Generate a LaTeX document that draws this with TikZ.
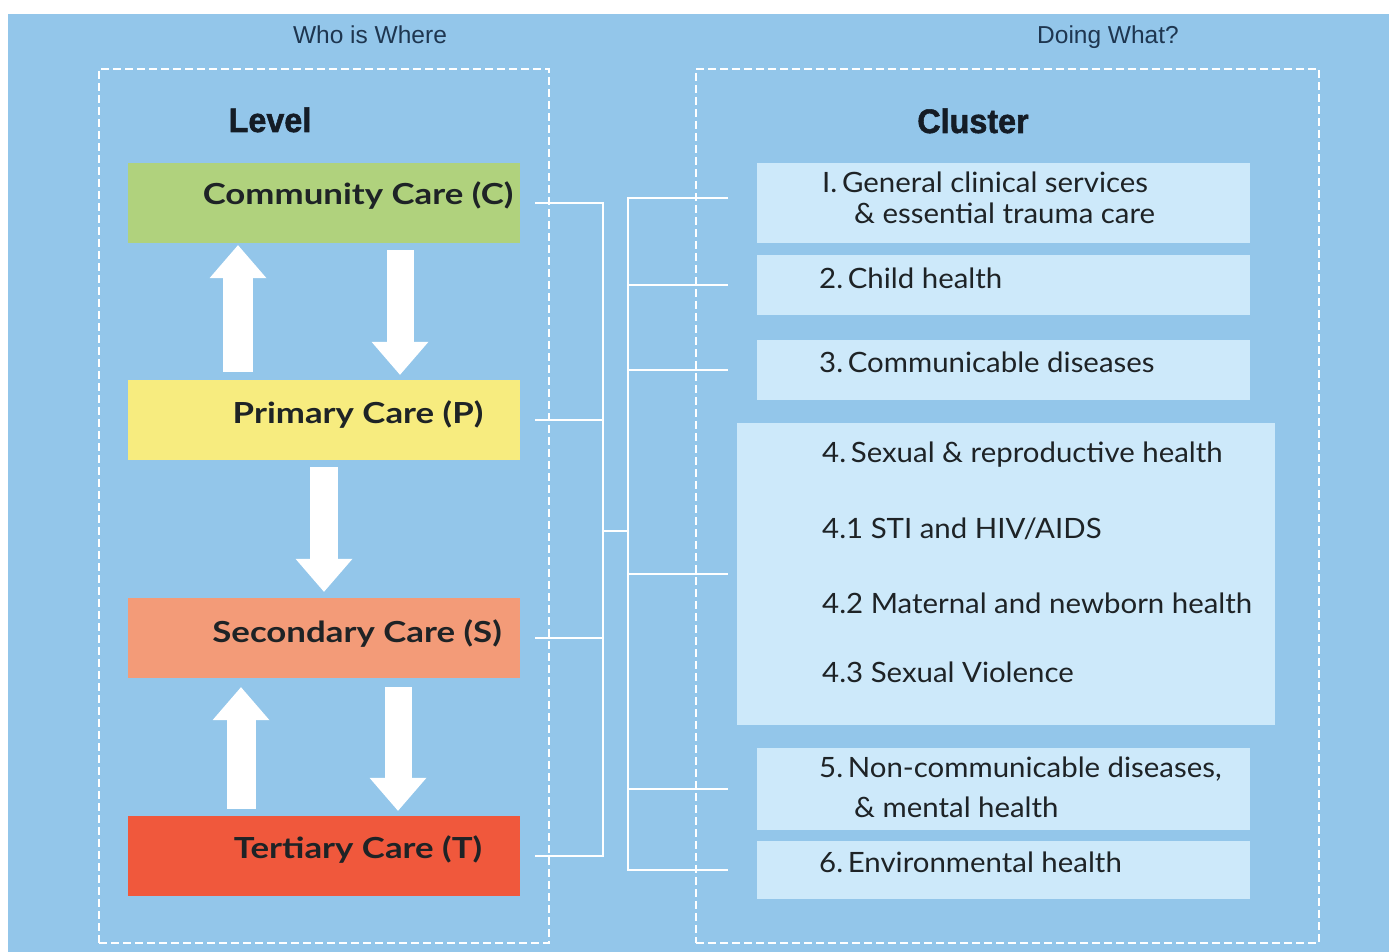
\documentclass[tikz,border=0pt]{standalone}
\usepackage{fontspec}
\setmainfont{Lato}
\newfontfamily\headfont{Liberation Sans}
\newfontfamily\headbold[FakeStretch=0.95,FakeBold=1.5]{Liberation Sans}
\newfontfamily\lvlfont[FakeStretch=1.2]{Lato}
\newfontfamily\clfont[FakeStretch=1.05]{Lato}
\usetikzlibrary{arrows.meta}
\definecolor{bg}{HTML}{93C6EA}
\definecolor{clbox}{HTML}{CDE9FA}
\definecolor{cgreen}{HTML}{B0D27D}
\definecolor{cyellow}{HTML}{F7EC7F}
\definecolor{csalmon}{HTML}{F39B78}
\definecolor{cred}{HTML}{F0583C}
\definecolor{txt}{HTML}{1E2326}
\definecolor{navy}{HTML}{1E3650}
\definecolor{headc}{HTML}{141C26}
\begin{document}
\begin{tikzpicture}[x=1pt,y=-1pt,
  dbox/.style={draw=white, line width=1.5pt, dash pattern=on 8pt off 4pt, inner sep=0pt},
  lvl/.style={minimum width=392pt, minimum height=80pt, inner sep=0pt},
  lvltext/.style={font=\lvlfont\bfseries\fontsize{29}{32}\selectfont, text=txt, inner sep=0pt, anchor=base},
  clus/.style={fill=clbox, inner sep=0pt},
  cltext/.style={font=\clfont\fontsize{28}{32}\selectfont, text=txt, inner sep=0pt, anchor=base west},
  toptitle/.style={font=\headfont\fontsize{24.5}{30}\selectfont, text=navy, inner sep=0pt, anchor=base},
  coltitle/.style={font=\headbold\bfseries\fontsize{34}{38}\selectfont, text=headc, inner sep=0pt, anchor=base},
  conn/.style={draw=white, line width=1.6pt},
  blk/.style={draw=white, line width=#1, line cap=butt,
    -{Triangle[width=57pt,length=33pt,line width=0pt]}},
]
\useasboundingbox (0,0) rectangle (1389,952);
\fill[white] (0,0) rectangle (1389,952);
\fill[bg] (8,14) rectangle (1389,952);

% titles
\node[toptitle] (who) at (370,44) {Who is Where};
\node[toptitle] (doing) at (1108,44) {Doing What?};

% dashed group boxes
\node[dbox, minimum width=450pt, minimum height=874pt] (LB) at (324,506) {};
\node[dbox, minimum width=623pt, minimum height=874pt] (RB) at (1007.5,506) {};

\node[coltitle] (level) at (270,132) {Level};
\node[coltitle] (cluster) at (973,133) {Cluster};

% level boxes
\node[lvl, fill=cgreen] (C) at (324,203) {};
\node[lvl, fill=cyellow] (P) at (324,420) {};
\node[lvl, fill=csalmon] (S) at (324,638) {};
\node[lvl, fill=cred] (T) at (324,856) {};
\node[lvltext] (Ct) at (358,205) {Community Care (C)};
\node[lvltext] (Pt) at (358,423) {Primary Care (P)};
\node[lvltext] (St) at (357,642) {Secondary Care (S)};
\node[lvltext] (Tt) at (358,858) {Tertiary Care (T)};

% block arrows
\draw[blk=30pt, shorten <=8pt, shorten >=2pt] ([xshift=-86pt]P.north) -- ([xshift=-86pt]C.south);
\draw[blk=27pt, shorten <=7pt, shorten >=5pt] ([xshift=76pt]C.south) -- ([xshift=76pt]P.north);
\draw[blk=28pt, shorten <=7pt, shorten >=6pt] (P.south) -- (S.north);
\draw[blk=29pt, shorten <=7pt, shorten >=9pt] ([xshift=-83pt]T.north) -- ([xshift=-83pt]S.south);
\draw[blk=27pt, shorten <=9pt, shorten >=5pt] ([xshift=74pt]S.south) -- ([xshift=74pt]T.north);

% cluster boxes
\node[clus, minimum width=493pt, minimum height=80pt] (K1) at (1003.5,203) {};
\node[clus, minimum width=493pt, minimum height=60pt] (K2) at (1003.5,285) {};
\node[clus, minimum width=493pt, minimum height=60pt] (K3) at (1003.5,370) {};
\node[clus, minimum width=538pt, minimum height=302pt] (K4) at (1006,574) {};
\node[clus, minimum width=493pt, minimum height=82pt] (K5) at (1003.5,789) {};
\node[clus, minimum width=493pt, minimum height=58pt] (K6) at (1003.5,870) {};

\node[cltext] (k1a) at (822,193) {I.\,General clinical services};
\node[cltext] (k1b) at (854,224) {\& essential trauma care};
\node[cltext] (k2) at (819,288) {2.\,Child health};
\node[cltext] (k3) at (819,372) {3.\,Communicable diseases};
\node[cltext] (k4a) at (822,462) {4.\,Sexual \& reproductive health};
\node[cltext] (k4b) at (822,538) {4.1 STI and HIV/AIDS};
\node[cltext] (k4c) at (822,613) {4.2 Maternal and newborn health};
\node[cltext] (k4d) at (822,682) {4.3 Sexual Violence};
\node[cltext] (k5a) at (819,777) {5.\,Non-communicable diseases,};
\node[cltext] (k5b) at (854,817) {\& mental health};
\node[cltext] (k6) at (819,872) {6.\,Environmental health};

% connector buses
\coordinate (busL) at (603,0);
\coordinate (busR) at (628,0);
\coordinate (tipR) at (728,0);
\coordinate (join) at (603,531);
\coordinate (K1w) at ([yshift=5pt]K1.west);

\draw[conn] ([xshift=15pt]C.east) -- (C.east -| busL) -- (T.east -| busL) -- ([xshift=15pt]T.east);
\draw[conn] ([xshift=15pt]P.east) -- (P.east -| busL);
\draw[conn] ([xshift=15pt]S.east) -- (S.east -| busL);
\draw[conn] (join) -- (join -| busR);
\draw[conn] (tipR |- K1w) -- (busR |- K1w) -- (busR |- K6.west) -- (tipR |- K6.west);
\draw[conn] (busR |- K2.west) -- (tipR |- K2.west);
\draw[conn] (busR |- K3.west) -- (tipR |- K3.west);
\draw[conn] (busR |- K4.west) -- (tipR |- K4.west);
\draw[conn] (busR |- K5.west) -- (tipR |- K5.west);
\end{tikzpicture}
\end{document}
